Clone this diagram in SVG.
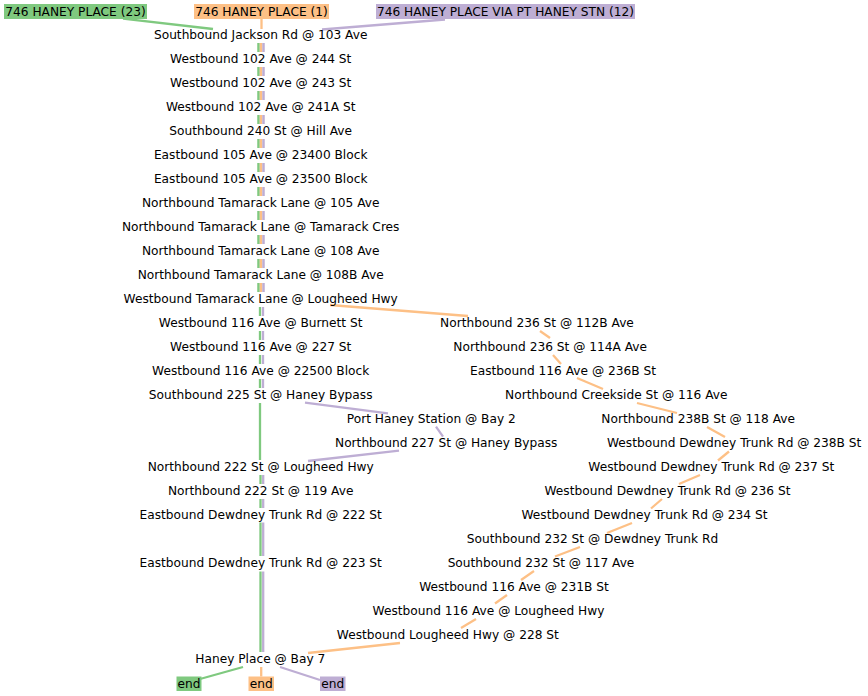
<svg xmlns="http://www.w3.org/2000/svg" width="868" height="696" viewBox="0 0 868 696">
<style>
text{font-family:"DejaVu Sans","Liberation Sans",sans-serif;font-size:12.2px;fill:#000;text-anchor:middle}
.g{stroke:#7fc97f;stroke-width:2.3;fill:none}
.o{stroke:#fdc086;stroke-width:2.3;fill:none}
.p{stroke:#beaed4;stroke-width:2.3;fill:none}
.t{stroke-width:2.5}
.gb{fill:#7fc97f}.ob{fill:#fdc086}.pb{fill:#beaed4}
</style>
<rect width="868" height="696" fill="#fff"/>
<g id="connectors">
<path class="g" d="M123,18.7L213,29"/>
<path class="o" d="M261.5,19V29"/>
<path class="p" d="M445,19.5L322,29.5"/>
<path class="g t" d="M258.5,43V52M258.5,67V76M258.5,91V100M258.5,115V124M258.5,139V148M258.5,163V172M258.5,187V196M258.5,211V220M258.5,235V244M258.5,259V268M258.5,283V292"/>
<path class="o t" d="M261,43V52M261,67V76M261,91V100M261,115V124M261,139V148M261,163V172M261,187V196M261,211V220M261,235V244M261,259V268M261,283V292"/>
<path class="p t" d="M263.5,43V52M263.5,67V76M263.5,91V100M263.5,115V124M263.5,139V148M263.5,163V172M263.5,187V196M263.5,211V220M263.5,235V244M263.5,259V268M263.5,283V292"/>
<path class="g" d="M260,307V316M260,331V340M260,355V364M260,379V388"/>
<path class="p" d="M263,307V316M263,331V340M263,355V364M263,379V388"/>
<path class="g" d="M260,403V460"/>
<path class="p" d="M305,402.7L388,413.3"/>
<path class="p" d="M436,426.7L443,436.7"/>
<path class="p" d="M399,450.7L308,461"/>
<path class="g" d="M260.5,475V484M260.5,499V508M260.5,522.5V556M260.5,571.5V652"/>
<path class="p" d="M263.2,475V484M263.2,499V508M263.2,522.5V556M263.2,571.5V652"/>
<path class="o" d="M330,305L468,316"/>
<path class="o" d="M540,331L550,338"/>
<path class="o" d="M553,355L561,364"/>
<path class="o" d="M577,378L603,389"/>
<path class="o" d="M637,403L677,413"/>
<path class="o" d="M707,427L725,437"/>
<path class="o" d="M729,451.5L718,460.5"/>
<path class="o" d="M700,475L679,484"/>
<path class="o" d="M662,499L651,508.5"/>
<path class="o" d="M632,523L607,533"/>
<path class="o" d="M580,547L555,556.5"/>
<path class="o" d="M534,571L521,580"/>
<path class="o" d="M507,595L495,603.5"/>
<path class="o" d="M476,619L461,628"/>
<path class="o" d="M400,643L308,653"/>
<path class="g" d="M243,667L200,679"/>
<path class="o" d="M261.2,667V676.5"/>
<path class="p" d="M280,667L320,680"/>
</g>
<g id="start-green"><rect class="gb" x="4" y="4" width="143" height="15"/><text x="75.5" y="15.5">746 HANEY PLACE (23)</text></g>
<g id="start-orange"><rect class="ob" x="194" y="4" width="135" height="15"/><text x="261.5" y="15.5">746 HANEY PLACE (1)</text></g>
<g id="start-purple"><rect class="pb" x="376" y="4" width="259" height="15"/><text x="505.5" y="15.5">746 HANEY PLACE VIA PT HANEY STN (12)</text></g>
<g id="n1"><text x="260.7" y="38.5">Southbound Jackson Rd @ 103 Ave</text></g>
<g id="n2"><text x="260.7" y="62.5">Westbound 102 Ave @ 244 St</text></g>
<g id="n3"><text x="260.7" y="86.5">Westbound 102 Ave @ 243 St</text></g>
<g id="n4"><text x="260.7" y="110.5">Westbound 102 Ave @ 241A St</text></g>
<g id="n5"><text x="260.7" y="134.5">Southbound 240 St @ Hill Ave</text></g>
<g id="n6"><text x="260.7" y="158.5">Eastbound 105 Ave @ 23400 Block</text></g>
<g id="n7"><text x="260.7" y="182.5">Eastbound 105 Ave @ 23500 Block</text></g>
<g id="n8"><text x="260.7" y="206.5">Northbound Tamarack Lane @ 105 Ave</text></g>
<g id="n9"><text x="260.7" y="230.5">Northbound Tamarack Lane @ Tamarack Cres</text></g>
<g id="n10"><text x="260.7" y="254.5">Northbound Tamarack Lane @ 108 Ave</text></g>
<g id="n11"><text x="260.7" y="278.5">Northbound Tamarack Lane @ 108B Ave</text></g>
<g id="n12"><text x="260.7" y="302.5">Westbound Tamarack Lane @ Lougheed Hwy</text></g>
<g id="n13"><text x="260.7" y="326.5">Westbound 116 Ave @ Burnett St</text></g>
<g id="n14"><text x="260.7" y="350.5">Westbound 116 Ave @ 227 St</text></g>
<g id="n15"><text x="260.7" y="374.5">Westbound 116 Ave @ 22500 Block</text></g>
<g id="n16"><text x="260.7" y="398.5">Southbound 225 St @ Haney Bypass</text></g>
<g id="n17"><text x="431.3" y="422.5">Port Haney Station @ Bay 2</text></g>
<g id="n18"><text x="446.2" y="446.5">Northbound 227 St @ Haney Bypass</text></g>
<g id="n19"><text x="260.7" y="470.5">Northbound 222 St @ Lougheed Hwy</text></g>
<g id="n20"><text x="260.7" y="494.5">Northbound 222 St @ 119 Ave</text></g>
<g id="n21"><text x="260.7" y="518.5">Eastbound Dewdney Trunk Rd @ 222 St</text></g>
<g id="n22"><text x="260.7" y="566.5">Eastbound Dewdney Trunk Rd @ 223 St</text></g>
<g id="o1"><text x="537" y="326.5">Northbound 236 St @ 112B Ave</text></g>
<g id="o2"><text x="550.2" y="350.5">Northbound 236 St @ 114A Ave</text></g>
<g id="o3"><text x="563" y="374.5">Eastbound 116 Ave @ 236B St</text></g>
<g id="o4"><text x="616.3" y="398.5">Northbound Creekside St @ 116 Ave</text></g>
<g id="o5"><text x="698.2" y="422.5">Northbound 238B St @ 118 Ave</text></g>
<g id="o6"><text x="734.2" y="446.5">Westbound Dewdney Trunk Rd @ 238B St</text></g>
<g id="o7"><text x="711.3" y="470.5">Westbound Dewdney Trunk Rd @ 237 St</text></g>
<g id="o8"><text x="667.5" y="494.5">Westbound Dewdney Trunk Rd @ 236 St</text></g>
<g id="o9"><text x="644.5" y="518.5">Westbound Dewdney Trunk Rd @ 234 St</text></g>
<g id="o10"><text x="592.5" y="542.5">Southbound 232 St @ Dewdney Trunk Rd</text></g>
<g id="o11"><text x="541" y="566.5">Southbound 232 St @ 117 Ave</text></g>
<g id="o12"><text x="514" y="590.5">Westbound 116 Ave @ 231B St</text></g>
<g id="o13"><text x="488.5" y="614.5">Westbound 116 Ave @ Lougheed Hwy</text></g>
<g id="o14"><text x="447.8" y="638.5">Westbound Lougheed Hwy @ 228 St</text></g>
<g id="n23"><text x="260.3" y="662.5">Haney Place @ Bay 7</text></g>
<g id="end-green"><rect class="gb" x="176.5" y="676.5" width="25" height="14.5"/><text x="189" y="687.5">end</text></g>
<g id="end-orange"><rect class="ob" x="248.5" y="676.5" width="25.5" height="14.5"/><text x="261.2" y="687.5">end</text></g>
<g id="end-purple"><rect class="pb" x="320" y="676.5" width="25.5" height="14.5"/><text x="332.8" y="687.5">end</text></g>
</svg>
